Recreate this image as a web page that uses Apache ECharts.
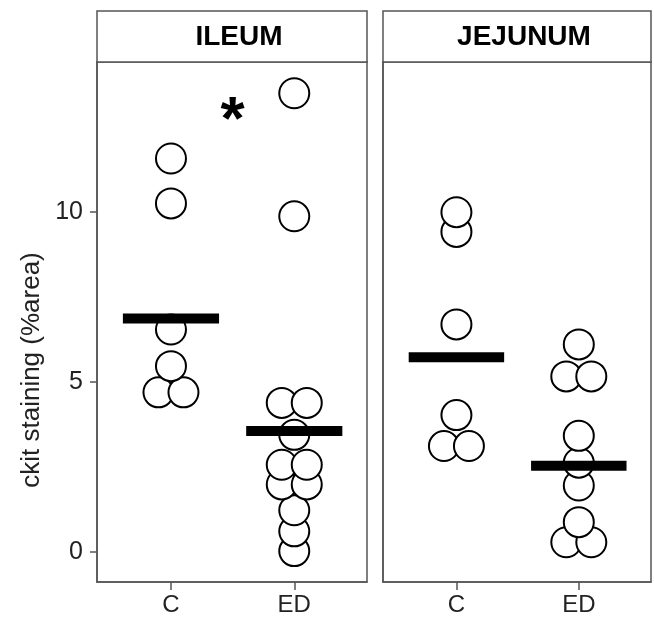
<!DOCTYPE html>
<html>
<head>
<meta charset="utf-8">
<script src="https://cdn.jsdelivr.net/npm/echarts@6/dist/echarts.min.js"></script>
<style>html,body{margin:0;padding:0;background:#fff}#chart{width:654px;height:617px}</style>
</head>
<body>
<div id="chart"></div>
<script>
// ---- data ----
const panels = ['ILEUM', 'JEJUNUM'];
const categories = ['C', 'ED'];
const ileumC = [11.58, 10.26, 6.55, 5.47, 4.7, 4.7];
const ileumED = [13.5, 9.88, 4.39, 4.39, 3.45, 2.57, 2.57, 1.99, 1.99, 1.23, 0.61, 0.03];
const jejunumC = [10.0, 9.42, 6.70, 4.03, 3.12, 3.12];
const jejunumED = [6.11, 5.17, 5.17, 3.42, 2.63, 1.96, 0.88, 0.29, 0.29];
const ileumMeans = [6.87, 3.56];
const jejunumMeans = [5.73, 2.54];
const yTicks = [0, 5, 10];
const yAxisTitle = 'ckit staining (%area)';
const sigMark = '*';
const sigPanel = 0;
const sigPoint = [1.5, 13.0];

// ---- layout / style ----
const FONT = '"Liberation Sans", Arial, sans-serif';
const INK = '#222';
const FRAME = '#555';
const SPACING = 25;
const grids = [
  { left: 97, top: 62, width: 270, height: 523 },
  { left: 383, top: 62, width: 268, height: 523 }
];
const groups = [[ileumC, ileumED], [jejunumC, jejunumED]];
const means = [ileumMeans, jejunumMeans];
const catPos = categories.map((c, i) => i + 1);

function swarm(values, catX) {
  const sorted = values.slice().sort((a, b) => a - b);
  const counts = {};
  sorted.forEach(v => counts[v] = (counts[v] || 0) + 1);
  const seen = {};
  return sorted.map(v => {
    const n = counts[v];
    const i = seen[v] || 0;
    seen[v] = i + 1;
    return { value: [catX, v], symbolOffset: [(i - (n - 1) / 2) * SPACING, 0] };
  });
}

const series = [];
panels.forEach((p, pi) => {
  let data = [];
  groups[pi].forEach((vals, ci) => { data = data.concat(swarm(vals, catPos[ci])); });
  series.push({
    type: 'scatter', xAxisIndex: pi, yAxisIndex: pi, silent: true, z: 2,
    symbol: 'circle', symbolSize: 30,
    itemStyle: { color: '#fff', borderColor: '#000', borderWidth: 2, opacity: 1 },
    data: data
  });
  series.push({
    type: 'custom', xAxisIndex: pi, yAxisIndex: pi, silent: true, z: 3,
    data: means[pi].map((m, ci) => [catPos[ci], m]),
    renderItem: function (params, api) {
      const a = api.coord([api.value(0) - 0.39, api.value(1)]);
      const b = api.coord([api.value(0) + 0.39, api.value(1)]);
      return { type: 'rect', shape: { x: a[0], y: a[1] - 5, width: b[0] - a[0], height: 10 }, style: { fill: '#000' } };
    }
  });
});
series.push({
  type: 'custom', xAxisIndex: sigPanel, yAxisIndex: sigPanel, silent: true, z: 4,
  data: [sigPoint],
  renderItem: function (params, api) {
    const c = api.coord([api.value(0), api.value(1)]);
    return { type: 'text', x: c[0], y: c[1] + 12, style: { text: sigMark, fontSize: 62, fontWeight: 'bold', fontFamily: FONT, fill: '#000', align: 'center', verticalAlign: 'middle' } };
  }
});

const xAxes = panels.map((p, pi) => ({
  type: 'value', gridIndex: pi, min: 0.4, max: 2.59,
  axisLine: { show: true, onZero: false, lineStyle: { color: FRAME, width: 1.5 } },
  axisTick: { show: true, customValues: catPos, length: 8, lineStyle: { color: FRAME, width: 1.5 } },
  axisLabel: { show: true, customValues: catPos, formatter: v => categories[Math.round(v) - 1], fontSize: 24, color: INK, fontFamily: FONT, margin: 11 },
  splitLine: { show: false }
}));
const yAxes = panels.map((p, pi) => ({
  type: 'value', gridIndex: pi, min: -0.88, max: 14.42,
  axisLine: { show: true, onZero: false, lineStyle: { color: FRAME, width: 1.5 } },
  axisTick: { show: pi === 0, customValues: yTicks, length: 7, lineStyle: { color: FRAME, width: 1.5 } },
  axisLabel: { show: pi === 0, customValues: yTicks, fontSize: 25, color: INK, fontFamily: FONT, margin: 14 },
  splitLine: { show: false }
}));

const graphic = [];
panels.forEach((p, pi) => {
  const g = grids[pi];
  graphic.push({ type: 'rect', shape: { x: g.left, y: 11, width: g.width, height: 51 }, style: { fill: '#fff', stroke: FRAME, lineWidth: 1.5 } });
  graphic.push({ type: 'text', x: g.left + g.width / 2 + 7, y: 37, style: { text: p, fontSize: 28, fontWeight: 'bold', fontFamily: FONT, fill: '#000', align: 'center', verticalAlign: 'middle' } });
});
graphic.push({ type: 'text', x: 32, y: 370, rotation: Math.PI / 2, style: { text: yAxisTitle, fontSize: 26, fontFamily: FONT, fill: INK, align: 'center', verticalAlign: 'middle' } });

const chart = echarts.init(document.getElementById('chart'), null, { renderer: 'canvas' });
chart.setOption({
  animation: false,
  backgroundColor: '#fff',
  grid: grids.map(g => Object.assign({ show: true, borderColor: FRAME, borderWidth: 1.5, backgroundColor: 'transparent' }, g)),
  xAxis: xAxes,
  yAxis: yAxes,
  series: series,
  graphic: graphic
});
</script>
</body>
</html>
